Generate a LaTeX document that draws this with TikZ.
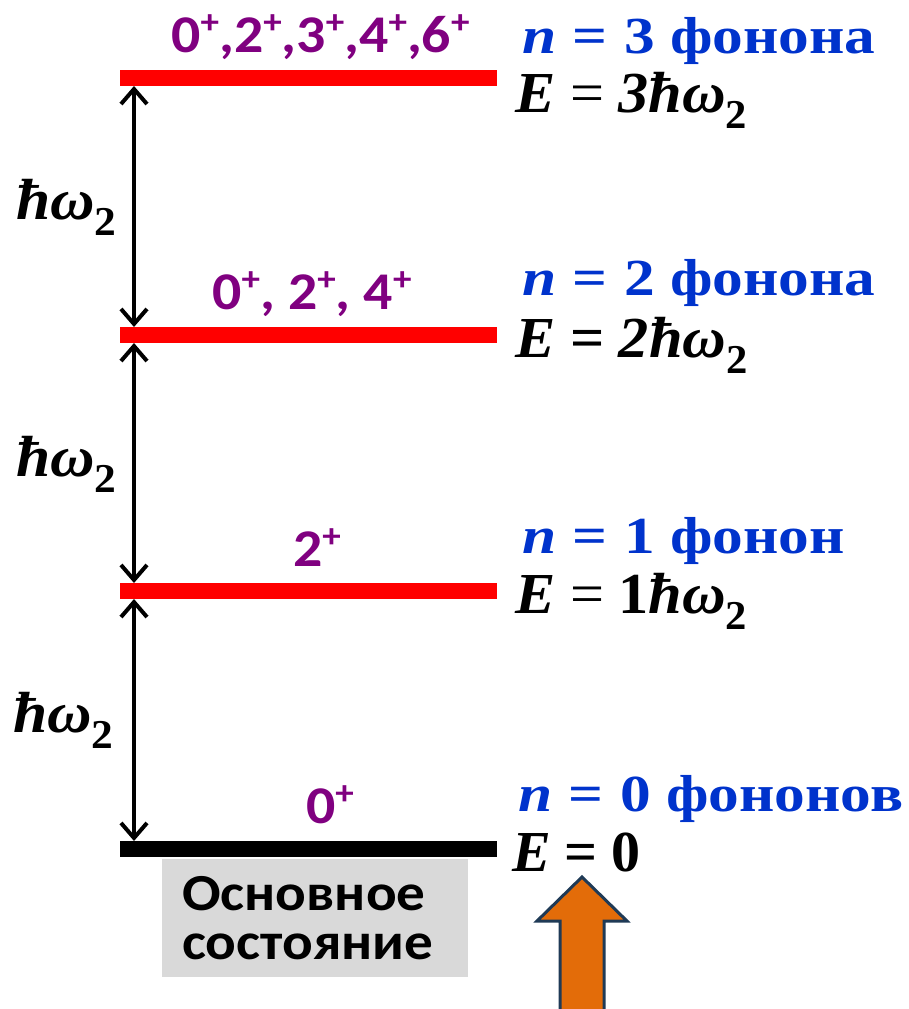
\documentclass[tikz,border=0pt]{standalone}
\usepackage{fontspec}
\setmainfont{Carlito}
\newfontfamily\serf{Liberation Serif}
\usetikzlibrary{arrows.meta}
\definecolor{lvred}{HTML}{FF0000}
\definecolor{spinpurple}{HTML}{800080}
\definecolor{nblue}{HTML}{0033CC}
\definecolor{arroworange}{HTML}{E36C09}
\definecolor{arrowedge}{HTML}{1F3A56}
\definecolor{boxgray}{HTML}{D9D9D9}
\newcommand\spl{\raisebox{19pt}{\fontsize{34}{34}\selectfont +}}
\newcommand\hw{\serf\bfseries\itshape ħω\raisebox{-16pt}{\upshape\fontsize{41}{41}\selectfont 2}}
\newcommand\eqsp[1]{\hspace{14pt}{#1=}\hspace{14pt}}
\newcommand\sx[2]{\scalebox{#1}[1]{#2}}
\begin{document}
\begin{tikzpicture}[x=1pt,y=-1pt,
  bar/.style={minimum width=377pt, minimum height=16pt, inner sep=0pt, outer sep=0pt, draw=none},
  barb/.tip={Straight Barb[length=15pt,width=26pt,line width=4pt]},
  gap/.style={line width=3.5pt, barb-barb},
  spin/.style={text=spinpurple, font=\fontsize{53}{53}\selectfont\bfseries, inner sep=0pt, anchor=base},
  nlab/.style={text=nblue, font=\serf\fontsize{52}{52}\selectfont\bfseries, inner sep=0pt, anchor=base west},
  elab/.style={font=\serf\fontsize{58}{58}\selectfont\bfseries, inner sep=0pt, anchor=base west},
  hlab/.style={font=\serf\fontsize{58}{58}\selectfont\bfseries, inner sep=0pt, anchor=base west}
]
\clip (0,0) rectangle (909,1009);
\useasboundingbox (0,0) rectangle (909,1009);

% levels
\node[bar, fill=lvred] (L3) at (308.5,78) {};
\node[bar, fill=lvred] (L2) at (308.5,335) {};
\node[bar, fill=lvred] (L1) at (308.5,591) {};
\node[bar, fill=black] (L0) at (308.5,849) {};

% gap arrows
\draw[gap] ([xshift=14pt]L3.south west) -- ([xshift=14pt]L2.north west);
\draw[gap] ([xshift=14pt]L2.south west) -- ([xshift=14pt]L1.north west);
\draw[gap] ([xshift=14pt]L1.south west) -- ([xshift=14pt]L0.north west);

% gap labels
\node[hlab] (h3) at (16,219) {\sx{1.06}{\hw}};
\node[hlab] (h2) at (16,476) {\sx{1.06}{\hw}};
\node[hlab] (h1) at (13,732) {\sx{1.06}{\hw}};

% spins
\node[spin] (s3) at (320.5,52) {\sx{1.09}{0\spl,2\spl,3\spl,4\spl,6\spl}};
\node[spin] (s2) at (312,309) {\sx{1.09}{0\spl, 2\spl, 4\spl}};
\node[spin] (s1) at (317,566) {\sx{1.09}{2\spl}};
\node[spin] (s0) at (330,823) {\sx{1.09}{0\spl}};

% phonon numbers
\node[nlab] (n3) at (522,53) {\sx{1.18}{{\itshape n}\eqsp{}3 фонона}};
\node[nlab] (n2) at (522,295) {\sx{1.18}{{\itshape n}\eqsp{}2 фонона}};
\node[nlab] (n1) at (522,553) {\sx{1.18}{{\itshape n}\eqsp{}1 фонон}};
\node[nlab] (n0) at (518,811) {\sx{1.18}{{\itshape n}\eqsp{}0 фононов}};

% energies
\node[elab] (e3) at (515,112) {\sx{1.04}{{\itshape E}\eqsp{\mdseries}{\itshape 3}\hw}};
\node[elab] (e2) at (515,357) {\sx{1.04}{{\itshape E}\eqsp{}{\itshape 2}\hw}};
\node[elab] (e1) at (515,613) {\sx{1.04}{{\itshape E}\eqsp{\mdseries}1\hw}};
\node[elab] (e0) at (512,871) {{\itshape E}\eqsp{}0};

% ground state box
\node[fill=boxgray, minimum width=306pt, minimum height=118pt, inner xsep=20pt, inner ysep=0pt,
      text width=266pt, align=left, font=\fontsize{52}{49}\selectfont\bfseries] (gs) at (315,918)
      {\sx{1.1}{Основное}\\\sx{1.1}{состояние}};

% orange arrow
\draw[fill=arroworange, draw=arrowedge, line width=3pt, line join=miter]
  (560,1015) -- (560,921) -- (537,921) -- (582,877) -- (627,921) -- (604,921) -- (604,1015) -- cycle;
\end{tikzpicture}
\end{document}
